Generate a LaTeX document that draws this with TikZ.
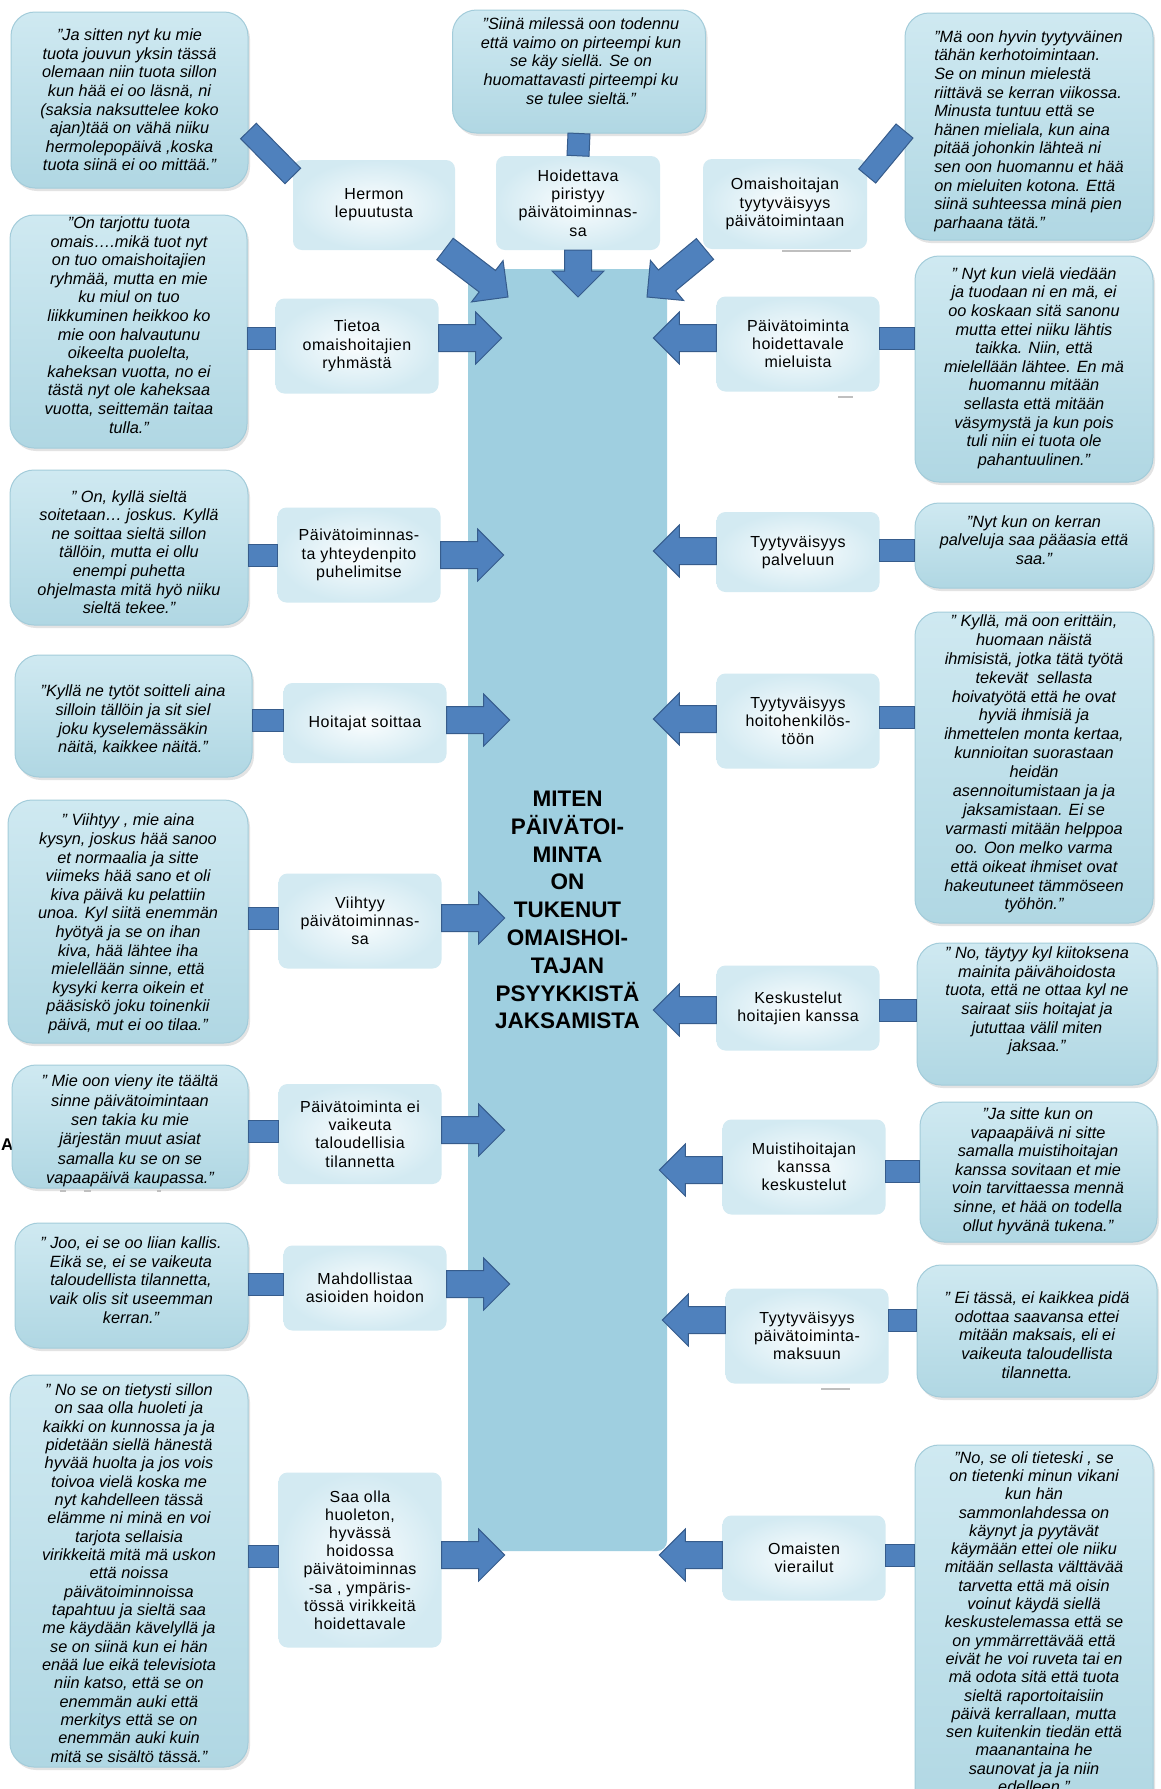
\documentclass[tikz,border=0pt]{standalone}
\usepackage{fontspec}
\setmainfont{Liberation Sans}
\newfontfamily\lblfont[LetterSpace=3]{Liberation Sans}
\usetikzlibrary{calc,shadows}

\definecolor{colfill}{HTML}{9FCFE0}
\definecolor{qtop}{HTML}{CFE9F1}
\definecolor{qbot}{HTML}{B0D7E3}
\definecolor{qedge}{HTML}{A3CCDA}
\definecolor{arrfill}{HTML}{4F81BD}
\definecolor{arredge}{HTML}{365C8C}
\definecolor{lblin}{HTML}{FAFDFE}
\definecolor{lblout}{HTML}{D3EAF2}

\tikzset{
  qbox/.style={rounded corners=24pt, top color=qtop, bottom color=qbot,
    draw=qedge, line width=1pt, inner sep=0pt,
    drop shadow={opacity=0.22, shadow xshift=2pt, shadow yshift=-3pt}},
  qtext/.style={font=\itshape\fontsize{16.3}{18.6}\selectfont, align=center, inner sep=0pt},
  lbl/.style={font=\lblfont\fontsize{16}{18.2}\selectfont, align=center,
    rounded corners=9pt, inner color=lblin, outer color=lblout,
    inner sep=0pt, minimum width=163pt},
  colbox/.style={fill=colfill, rounded corners=10pt, inner sep=0pt,
    font=\bfseries\fontsize{22.5}{27.8}\selectfont, align=center},
  barfill/.style={fill=arrfill, draw=arredge, line width=1pt, line join=miter},
  artefact/.style={draw=black!25, line width=2pt},
}

% block arrow from #1 to #2 (shaft 27, head 52 wide, 26 long)
\newcommand\BlockArrow[2]{%
  \filldraw[barfill] let \p1=(#1), \p2=(#2),
      \n1={atan2((\y2)-(\y1),(\x2)-(\x1))} in
    ($(\p1)+(\n1+90:13.5pt)$)
    -- ($(\p2)+(\n1+180:26pt)+(\n1+90:13.5pt)$)
    -- ($(\p2)+(\n1+180:26pt)+(\n1+90:26pt)$)
    -- (\p2)
    -- ($(\p2)+(\n1+180:26pt)+(\n1-90:26pt)$)
    -- ($(\p2)+(\n1+180:26pt)+(\n1-90:13.5pt)$)
    -- ($(\p1)+(\n1-90:13.5pt)$) -- cycle;}
% short bar joining a quotation to its theme box
\newcommand\StubBar[2]{%
  \filldraw[barfill] let \p1=(#1), \p2=(#2),
      \n1={atan2((\y2)-(\y1),(\x2)-(\x1))} in
    ($(\p1)+(\n1+90:11pt)$) -- ($(\p2)+(\n1+90:11pt)$)
    -- ($(\p2)+(\n1-90:11pt)$) -- ($(\p1)+(\n1-90:11pt)$) -- cycle;}

\begin{document}
\begin{tikzpicture}[x=1pt,y=-1pt]
\useasboundingbox[fill=white] (0,0) rectangle (1161,1789);

% central column
\node[colbox, minimum width=199pt, minimum height=1282pt] (col) at (567.5,910)
  {MITEN\\PÄIVÄTOI-\\MINTA\\ON\\TUKENUT\\OMAISHOI-\\TAJAN\\PSYYKKISTÄ\\JAKSAMISTA};

% stray letter partly hidden behind a quotation
\node[font=\bfseries\fontsize{17}{17}\selectfont, anchor=west, inner sep=0pt] (artA) at (1,1145) {A};

% faint shadow marks under some theme boxes
\draw[artefact] (782,251) -- (851,251);
\draw[artefact] (838,397) -- (853,397);
\draw[artefact] (821,1389) -- (850,1389);

% ---------- theme boxes ----------
\node[lbl, minimum width=162pt, minimum height=90pt] (L1) at (374,205) {Hermon\\lepuutusta};
\node[lbl, minimum width=164pt, minimum height=94pt] (C1) at (578,203) {Hoidettava\\piristyy\\päivätoiminnas-\\sa};
\node[lbl, minimum width=164pt, minimum height=90pt] (R1) at (785,204) {Omaishoitajan\\tyytyväisyys\\päivätoimintaan};

\node[lbl, minimum height=95pt] (L2) at (357,346) {Tietoa\\omaishoitajien\\ryhmästä};
\node[lbl, minimum height=95pt] (L3) at (359,555) {Päivätoiminnas-\\ta yhteydenpito\\puhelimitse};
\node[lbl, minimum height=80pt] (L4) at (365,723) {Hoitajat soittaa};
\node[lbl, minimum height=95pt] (L5) at (360,921) {Viihtyy\\päivätoiminnas-\\sa};
\node[lbl, minimum height=100pt] (L6) at (360,1134) {Päivätoiminta ei\\vaikeuta\\taloudellisia\\tilannetta};
\node[lbl, minimum height=85pt] (L7) at (365,1288) {Mahdollistaa\\asioiden hoidon};
\node[lbl, minimum height=175pt] (L8) at (360,1560) {Saa olla\\huoleton,\\hyvässä\\hoidossa\\päivätoiminnas\\-sa , ympäris-\\tössä virikkeitä\\hoidettavale};

\node[lbl, minimum height=95pt] (R2) at (798,344) {Päivätoiminta\\hoidettavale\\mieluista};
\node[lbl, minimum height=80pt] (R3) at (798,552) {Tyytyväisyys\\palveluun};
\node[lbl, minimum height=95pt] (R4) at (798,721) {Tyytyväisyys\\hoitohenkilös-\\töön};
\node[lbl, minimum height=85pt] (R5) at (798,1008) {Keskustelut\\hoitajien kanssa};
\node[lbl, minimum height=95pt] (R6) at (804,1167) {Muistihoitajan\\kanssa\\keskustelut};
\node[lbl, minimum height=95pt] (R7) at (807,1336) {Tyytyväisyys\\päivätoiminta-\\maksuun};
\node[lbl, minimum height=85pt] (R8) at (804,1558) {Omaisten\\vierailut};

% ---------- quotation boxes ----------
\node[qbox, minimum width=237pt, minimum height=176pt] (Q1) at (129.5,100) {};
\node[qbox, minimum width=253pt, minimum height=123pt] (Q2) at (579,71.5) {};
\node[qbox, minimum width=248pt, minimum height=227pt] (Q3) at (1029,126.5) {};
\node[qbox, minimum width=237pt, minimum height=233pt] (Q4) at (128.5,331.5) {};
\node[qbox, minimum width=238pt, minimum height=155pt] (Q5) at (129,547.5) {};
\node[qbox, minimum width=237pt, minimum height=122pt] (Q6) at (133.5,716) {};
\node[qbox, minimum width=240pt, minimum height=243pt] (Q7) at (128,921.5) {};
\node[qbox, minimum width=236pt, minimum height=123pt] (Q8) at (130,1126.5) {};
\node[qbox, minimum width=233pt, minimum height=125pt] (Q9) at (131.5,1285.5) {};
\node[qbox, minimum width=238pt, minimum height=392pt] (Q10) at (129,1571) {};
\node[qbox, minimum width=238pt, minimum height=226pt] (Q11) at (1034,369) {};
\node[qbox, minimum width=238pt, minimum height=85pt] (Q12) at (1034,545.5) {};
\node[qbox, minimum width=238pt, minimum height=311pt] (Q13) at (1034,767.5) {};
\node[qbox, minimum width=240pt, minimum height=142pt] (Q14) at (1037,1014) {};
\node[qbox, minimum width=237pt, minimum height=140pt] (Q15) at (1038.5,1172) {};
\node[qbox, minimum width=240pt, minimum height=132pt] (Q16) at (1037,1331) {};
\node[qbox, minimum width=238pt, minimum height=375pt] (Q17) at (1034,1632.5) {};

\draw[artefact] (60,1191) -- (66,1191) (84,1191) -- (91,1191) (157,1191) -- (161,1191);

% quotation texts
\node[qtext] (T1) at (Q1) {”Ja sitten nyt ku mie\\tuota jouvun yksin tässä\\olemaan niin tuota sillon\\kun hää ei oo läsnä, ni\\(saksia naksuttelee koko\\ajan)tää on vähä niiku\\hermolepopäivä ,koska\\tuota siinä ei oo mittää.”};
\node[qtext] (T2) at (581,61) {”Siinä milessä oon todennu\\että vaimo on pirteempi kun\\se käy siellä. Se on\\huomattavasti pirteempi ku\\se tulee sieltä.”};
\node[qtext, align=left] (T3) at (1029,131) {”Mä oon hyvin tyytyväinen\\tähän kerhotoimintaan.\\Se on minun mielestä\\riittävä se kerran viikossa.\\Minusta tuntuu että se\\hänen mieliala, kun aina\\pitää johonkin lähteä ni\\sen oon huomannu et hää\\on mieluiten kotona. Että\\siinä suhteessa minä pien\\parhaana tätä.”};
\node[qtext] (T4) at (129,325) {”On tarjottu tuota\\omais….mikä tuot nyt\\on tuo omaishoitajien\\ryhmää, mutta en mie\\ku miul on tuo\\liikkuminen heikkoo ko\\mie oon halvautunu\\oikeelta puolelta,\\kaheksan vuotta, no ei\\tästä nyt ole kaheksaa\\vuotta, seittemän taitaa\\tulla.”};
\node[qtext] (T5) at (129,552) {” On, kyllä sieltä\\soitetaan… joskus. Kyllä\\ne soittaa sieltä sillon\\tällöin, mutta ei ollu\\enempi puhetta\\ohjelmasta mitä hyö niiku\\sieltä tekee.”};
\node[qtext] (T6) at (133,720) {”Kyllä ne tytöt soitteli aina\\silloin tällöin ja sit siel\\joku kyselemässäkin\\näitä, kaikkee näitä.”};
\node[qtext] (T7) at (128,924) {” Viihtyy , mie aina\\kysyn, joskus hää sanoo\\et normaalia ja sitte\\viimeks hää sano et oli\\kiva päivä ku pelattiin\\unoa. Kyl siitä enemmän\\hyötyä ja se on ihan\\kiva, hää lähtee iha\\mielellään sinne, että\\kysyki kerra oikein et\\pääsiskö joku toinenkii\\päivä, mut ei oo tilaa.”};
\node[qtext, font=\itshape\fontsize{16.3}{19.4}\selectfont] (T8) at (130,1131) {” Mie oon vieny ite täältä\\sinne päivätoimintaan\\sen takia ku mie\\järjestän muut asiat\\samalla ku se on se\\vapaapäivä kaupassa.”};
\node[qtext] (T9) at (131,1280) {” Joo, ei se oo liian kallis.\\Eikä se, ei se vaikeuta\\taloudellista tilannetta,\\vaik olis sit useemman\\kerran.”};
\node[qtext, font=\itshape\fontsize{16.3}{18.35}\selectfont] (T10) at (129,1573) {” No se on tietysti sillon\\on saa olla huoleti ja\\kaikki on kunnossa ja ja\\pidetään siellä hänestä\\hyvää huolta ja jos vois\\toivoa vielä koska me\\nyt kahdelleen tässä\\elämme ni minä en voi\\tarjota sellaisia\\virikkeitä mitä mä uskon\\että noissa\\päivätoiminnoissa\\tapahtuu ja sieltä saa\\me käydään kävelyllä ja\\se on siinä kun ei hän\\enää lue eikä televisiota\\niin katso, että se on\\enemmän auki että\\merkitys että se on\\enemmän auki kuin\\mitä se sisältö tässä.”};
\node[qtext] (T11) at (1034,368) {” Nyt kun vielä viedään\\ja tuodaan ni en mä, ei\\oo koskaan sitä sanonu\\mutta ettei niiku lähtis\\taikka. Niin, että\\mielellään lähtee. En mä\\huomannu mitään\\sellasta että mitään\\väsymystä ja kun pois\\tuli niin ei tuota ole\\pahantuulinen.”};
\node[qtext] (T12) at (1034,540) {”Nyt kun on kerran\\palveluja saa pääasia että\\saa.”};
\node[qtext, font=\itshape\fontsize{16.3}{18.9}\selectfont] (T13) at (1034,764) {” Kyllä, mä oon erittäin,\\huomaan näistä\\ihmisistä, jotka tätä työtä\\tekevät \ sellasta\\hoivatyötä että he ovat\\hyviä ihmisiä ja\\ihmettelen monta kertaa,\\kunnioitan suorastaan\\heidän\\asennoitumistaan ja ja\\jaksamistaan. Ei se\\varmasti mitään helppoa\\oo. Oon melko varma\\että oikeat ihmiset ovat\\hakeutuneet tämmöseen\\työhön.”};
\node[qtext] (T14) at (1037,1001) {” No, täytyy kyl kiitoksena\\mainita päivähoidosta\\tuota, että ne ottaa kyl ne\\sairaat siis hoitajat ja\\jututtaa välil miten\\jaksaa.”};
\node[qtext] (T15) at (1038,1171) {”Ja sitte kun on\\vapaapäivä ni sitte\\samalla muistihoitajan\\kanssa sovitaan et mie\\voin tarvittaessa mennä\\sinne, et hää on todella\\ollut hyvänä tukena.”};
\node[qtext] (T16) at (1037,1335) {” Ei tässä, ei kaikkea pidä\\odottaa saavansa ettei\\mitään maksais, eli ei\\vaikeuta taloudellista\\tilannetta.};
\node[qtext, font=\itshape\fontsize{16.3}{18.3}\selectfont] (T17) at (1034,1622) {”No, se oli tieteski , se\\on tietenki minun vikani\\kun hän\\sammonlahdessa on\\käynyt ja pyytävät\\käymään ettei ole niiku\\mitään sellasta välttävää\\tarvetta että mä oisin\\voinut käydä siellä\\keskustelemassa että se\\on ymmärrettävää että\\eivät he voi ruveta tai en\\mä odota sitä että tuota\\sieltä raportoitaisiin\\päivä kerrallaan, mutta\\sen kuitenkin tiedän että\\maanantaina he\\saunovat ja ja niin\\edelleen.”};

% ---------- bars from quotations to theme boxes ----------
\StubBar{Q1.east |- 0,131}{L1.west |- 0,176}
\StubBar{Q2.south}{C1.north}
\StubBar{Q3.west |- 0,131}{R1.east |- 0,176}
\StubBar{Q4.east |- 0,338}{L2.west |- 0,338}
\StubBar{Q5.east |- 0,555}{L3.west |- 0,555}
\StubBar{Q6.east |- 0,720}{L4.west |- 0,720}
\StubBar{Q7.east |- 0,918}{L5.west |- 0,918}
\StubBar{Q8.east |- 0,1131}{L6.west |- 0,1131}
\StubBar{Q9.east |- 0,1284}{L7.west |- 0,1284}
\StubBar{Q10.east |- 0,1556}{L8.west |- 0,1556}
\StubBar{Q11.west |- 0,338}{R2.east |- 0,338}
\StubBar{Q12.west |- 0,550}{R3.east |- 0,550}
\StubBar{Q13.west |- 0,717}{R4.east |- 0,717}
\StubBar{Q14.west |- 0,1010}{R5.east |- 0,1010}
\StubBar{Q15.west |- 0,1171}{R6.east |- 0,1171}
\StubBar{Q16.west |- 0,1320}{R7.east |- 0,1320}
\StubBar{Q17.west |- 0,1555}{R8.east |- 0,1555}

% ---------- arrows into the column ----------
\coordinate (tailL1) at (445,249);
\coordinate (tipL1) at (508,297);
\coordinate (tipC1) at (578,297);
\coordinate (tailR1) at (705,249);
\coordinate (tipR1) at (647,297);
\BlockArrow{tailL1}{tipL1}
\BlockArrow{C1.south}{tipC1}
\BlockArrow{tailR1}{tipR1}

\foreach \nm/\yy in {L2/338, L3/555, L4/720, L5/918, L6/1130, L7/1284, L8/1555}{
  \coordinate (s-\nm) at (\nm.east |- 0,\yy);
  \coordinate (e-\nm) at ($(s-\nm)+(63,0)$);
  \BlockArrow{s-\nm}{e-\nm}
}
\foreach \nm/\yy in {R2/338, R3/551, R4/719, R5/1010, R6/1170, R7/1320, R8/1555}{
  \coordinate (s-\nm) at (\nm.west |- 0,\yy);
  \coordinate (e-\nm) at ($(s-\nm)+(-63,0)$);
  \BlockArrow{s-\nm}{e-\nm}
}
\end{tikzpicture}
\end{document}
